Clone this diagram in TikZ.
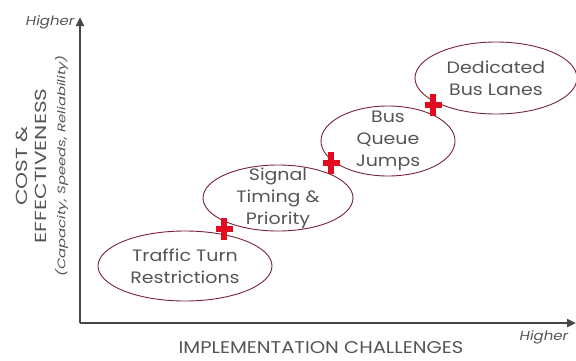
\documentclass[tikz,border=0pt]{standalone}
\usepackage{fontspec}
\setmainfont{Poppins}
\newfontfamily\mainwide[FakeStretch=1.15]{Poppins}
\newfontfamily\ywide[FakeStretch=1.35]{Poppins}
\usetikzlibrary{arrows.meta,shapes.geometric}
\definecolor{txtgray}{RGB}{85,85,85}
\definecolor{axisgray}{RGB}{72,72,72}
\definecolor{rimred}{RGB}{120,35,55}
\definecolor{plusred}{RGB}{225,10,30}

\begin{document}
\begin{tikzpicture}[x=1pt, y=-1pt, >={Triangle[length=9pt,width=8pt]},
    every node/.style={text=txtgray},
    axisline/.style={->, draw=axisgray, line width=2.5pt},
    measure/.style={ellipse, draw=rimred, line width=0.9pt, inner sep=0pt},
    txt/.style={align=center, text=txtgray, font=\mainwide\fontsize{16.5}{22}\selectfont},
    higher/.style={font=\mainwide\fontsize{13}{13}\selectfont\itshape},
    hbar/.style={fill=plusred, minimum width=17pt, minimum height=6pt, inner sep=0pt},
    vbar/.style={fill=plusred, minimum width=6pt, minimum height=22pt, inner sep=0pt}
    ]
\useasboundingbox (0,0) rectangle (576,360);
% axes
\coordinate (o)    at (80,323);
\coordinate (ytop) at (80,17);
\coordinate (xend) at (576,323);
\draw[axisline] (o) -- (ytop);
\draw[axisline] (o) -- (xend);
\node[higher, anchor=east] (hy) at (78,22) {Higher};
\node[higher] (hx) at (544,337) {Higher};
\node[font=\mainwide\fontsize{17}{17}\selectfont] (xlab) at (321,348) {IMPLEMENTATION CHALLENGES};
\node[rotate=90, align=center, font=\ywide\fontsize{16}{19}\selectfont] (ylab) at (42,166)
    {COST \&\\EFFECTIVENESS\\{\fontsize{11}{19}\selectfont\itshape (Capacity, Speeds, Reliability)}};

% the four measures
\node[measure, minimum width=174pt, minimum height=70pt,
    label={[txt]center:Traffic Turn\\Restrictions}] (turn) at (185,266) {};
\node[measure, minimum width=150pt, minimum height=66pt,
    label={[txt]center:Signal\\Timing \&\\Priority}] (signal) at (278,198) {};
\node[measure, minimum width=134pt, minimum height=70pt,
    label={[txt]center:Bus\\Queue\\Jumps}] (queue) at (388,141) {};
\node[measure, minimum width=162pt, minimum height=72pt,
    label={[txt]center:Dedicated\\Bus Lanes}] (lanes) at (496,78) {};

% red crosses where they meet
\coordinate (c1) at (224,229);
\coordinate (c2) at (331,163);
\coordinate (c3) at (433,105);
\foreach \c in {c1,c2,c3}{
  \node[hbar] at (\c) {};
  \node[vbar] at (\c) {};
}
\end{tikzpicture}
\end{document}
